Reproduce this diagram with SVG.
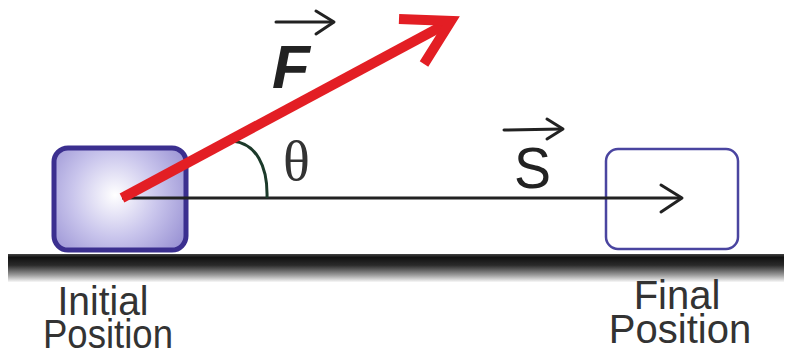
<svg xmlns="http://www.w3.org/2000/svg" width="791" height="355" viewBox="0 0 791 355">
<defs>
<radialGradient id="boxGrad" cx="115" cy="195" r="95" gradientUnits="userSpaceOnUse">
<stop offset="0" stop-color="#ffffff"/>
<stop offset="0.45" stop-color="#c9c5ec"/>
<stop offset="1" stop-color="#8a82cc"/>
</radialGradient>
<linearGradient id="groundGrad" x1="0" y1="0" x2="0" y2="1">
<stop offset="0" stop-color="#444"/>
<stop offset="0.12" stop-color="#111"/>
<stop offset="0.4" stop-color="#2a2a2a"/>
<stop offset="0.75" stop-color="#9a9a9a"/>
<stop offset="1" stop-color="#f8f8f8"/>
</linearGradient>
<style>
.lbl{font-family:"Liberation Sans",Arial,sans-serif;font-size:40px;fill:#333;text-anchor:middle}
.vec{fill:none;stroke:#222;stroke-width:3;stroke-linecap:round;stroke-linejoin:round}
</style>
</defs>
<rect width="791" height="355" fill="#ffffff"/>
<rect x="8" y="254" width="776" height="28" fill="url(#groundGrad)"/>
<g id="initial-box">
<rect x="54" y="148" width="132" height="102" rx="14" fill="url(#boxGrad)" stroke="#3b2f8f" stroke-width="5"/>
</g>
<g id="final-box">
<rect x="606" y="149" width="132" height="100" rx="12" fill="#ffffff" stroke="#4a45a0" stroke-width="2.5"/>
</g>
<g id="connectors">
<g id="displacement">
<line x1="122" y1="198" x2="682" y2="198" stroke="#222" stroke-width="3"/>
<polyline points="661,185 682,198 661,212" class="vec"/>
</g>
<g id="angle-arc">
<path d="M232,141 C256,143 268,166 267,198" fill="none" stroke="#1c3a2a" stroke-width="3"/>
</g>
<g id="force">
<line x1="122" y1="198" x2="446" y2="24" stroke="#e31e24" stroke-width="10"/>
<polyline points="399,19 451,21 424,64" fill="none" stroke="#e31e24" stroke-width="10" stroke-linejoin="miter" stroke-miterlimit="10"/>
</g>
</g>
<g id="label-F">
<line x1="276" y1="22" x2="333" y2="22" class="vec"/>
<polyline points="316,11 334,22 316,34" class="vec"/>
<text x="272" y="88" font-family="'Liberation Sans',Arial,sans-serif" font-size="62" font-weight="bold" font-style="italic" fill="#222">F</text>
</g>
<g id="label-theta">
<text x="283" y="180" font-family="'Liberation Serif','Times New Roman',serif" font-size="56" fill="#333">θ</text>
</g>
<g id="label-S">
<line x1="504" y1="130" x2="562" y2="129" class="vec"/>
<polyline points="547,119 563,129 547,139" class="vec"/>
<text x="514" y="188" font-family="'Liberation Sans',Arial,sans-serif" font-size="58" fill="#222" textLength="37" lengthAdjust="spacingAndGlyphs">S</text>
</g>
<g id="label-initial">
<text class="lbl" x="103" y="315" textLength="91" lengthAdjust="spacingAndGlyphs" font-size="41">Initial</text>
<text class="lbl" x="108" y="348" textLength="130" lengthAdjust="spacingAndGlyphs" font-size="41">Position</text>
</g>
<g id="label-final">
<text class="lbl" x="677" y="309">Final</text>
<text class="lbl" x="680" y="343">Position</text>
</g>
</svg>
